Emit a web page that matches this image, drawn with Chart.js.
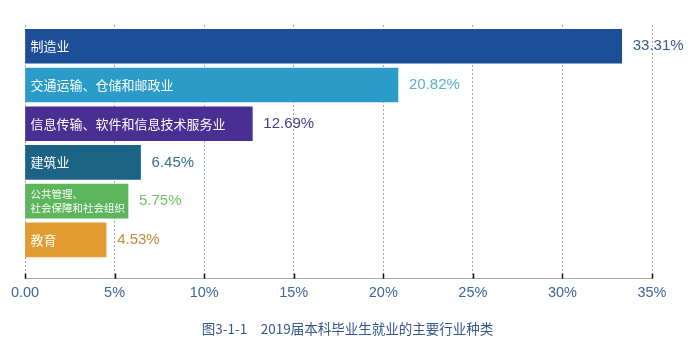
<!DOCTYPE html>
<html>
<head>
<meta charset="utf-8">
<script src="https://cdn.jsdelivr.net/npm/chart.js@4.4.1/dist/chart.umd.min.js"></script>
<style>
html,body{margin:0;padding:0;background:#fff;}
#wrap{width:695px;height:353px;position:relative;}
</style>
</head>
<body>
<div id="wrap"><canvas id="c"></canvas></div>
<script>
const categories = ['制造业', '交通运输、仓储和邮政业', '信息传输、软件和信息技术服务业', '建筑业', '公共管理、\n社会保障和社会组织', '教育'];
const shares = [33.31, 20.82, 12.69, 6.45, 5.75, 4.53];
const barColors = ['#1d4f98', '#2b9bc9', '#4a2f93', '#1b6486', '#5db65b', '#e29b30'];
const valueColors = ['#3d5a8b', '#5aaed4', '#4b3b86', '#3a6e8b', '#74c06a', '#c98a3a'];
const tickValues = [0, 5, 10, 15, 20, 25, 30, 35];
const chartTitle = '图3-1-1　2019届本科毕业生就业的主要行业种类';

const NUM_FONT = "'Liberation Sans', Arial, 'Noto Sans CJK SC', sans-serif";
const CJK_FONT = "'Noto Sans CJK SC', 'Liberation Sans', sans-serif";

const labelPlugin = {
  id: 'labels',
  afterDatasetsDraw(chart) {
    const ctx = chart.ctx;
    const meta = chart.getDatasetMeta(0);
    ctx.save();
    meta.data.forEach((bar, i) => {
      const lines = categories[i].split('\n');
      ctx.fillStyle = '#ffffff';
      ctx.textBaseline = 'middle';
      ctx.textAlign = 'left';
      if (lines.length === 1) {
        ctx.font = "13px " + CJK_FONT;
        ctx.fillText(lines[0], bar.base + 5, bar.y);
      } else {
        ctx.font = "10.5px " + CJK_FONT;
        ctx.fillText(lines[0], bar.base + 5, bar.y - 7);
        ctx.fillText(lines[1], bar.base + 5, bar.y + 7);
      }
      ctx.font = "15px " + NUM_FONT;
      ctx.fillStyle = valueColors[i];
      ctx.fillText(shares[i].toFixed(2) + '%', bar.x + 11, bar.y);
    });
    ctx.restore();
  },
  afterDraw(chart) {
    const ctx = chart.ctx;
    const xs = chart.scales.x;
    const bottom = chart.chartArea.bottom;
    ctx.save();
    ctx.strokeStyle = '#111';
    ctx.lineWidth = 1.5;
    tickValues.forEach(v => {
      const px = Math.round(xs.getPixelForValue(v)) + 0.5;
      ctx.beginPath();
      ctx.moveTo(px, bottom - 5);
      ctx.lineTo(px, bottom);
      ctx.stroke();
    });
    // caption centred on the page below the axis
    ctx.fillStyle = '#34588f';
    ctx.font = "13.5px " + CJK_FONT;
    ctx.textAlign = 'center';
    ctx.textBaseline = 'middle';
    ctx.fillText(chartTitle, chart.width / 2, xs.bottom + 21);
    ctx.restore();
  }
};

new Chart(document.getElementById('c'), {
  type: 'bar',
  data: {
    datasets: [{
      data: shares.map((v, i) => ({ x: v, y: i })),
      backgroundColor: barColors,
      borderWidth: 0,
      barThickness: 34
    }]
  },
  options: {
    indexAxis: 'y',
    responsive: true,
    maintainAspectRatio: false,
    animation: false,
    layout: { padding: { left: 25, right: 43, top: 25, bottom: 45 } },
    plugins: {
      legend: { display: false },
      tooltip: { enabled: false },
      title: { display: false }
    },
    scales: {
      x: {
        type: 'linear',
        min: 0,
        max: 35,
        afterBuildTicks(scale) { scale.ticks = tickValues.map(v => ({ value: v })); },
        ticks: {
          color: '#3e6898',
          font: { family: NUM_FONT, size: 14.5 },
          padding: 6,
          callback: v => v === 0 ? '0.00' : v + '%'
        },
        grid: { color: '#a8a8a8', lineWidth: 1, drawTicks: false },
        border: { display: true, color: '#a8a8a8', dash: [2, 2] }
      },
      y: {
        type: 'linear',
        bounds: 'data',
        offset: false,
        min: -0.55,
        max: 6,
        reverse: true,
        display: false
      }
    }
  },
  plugins: [labelPlugin]
});
</script>
</body>
</html>
